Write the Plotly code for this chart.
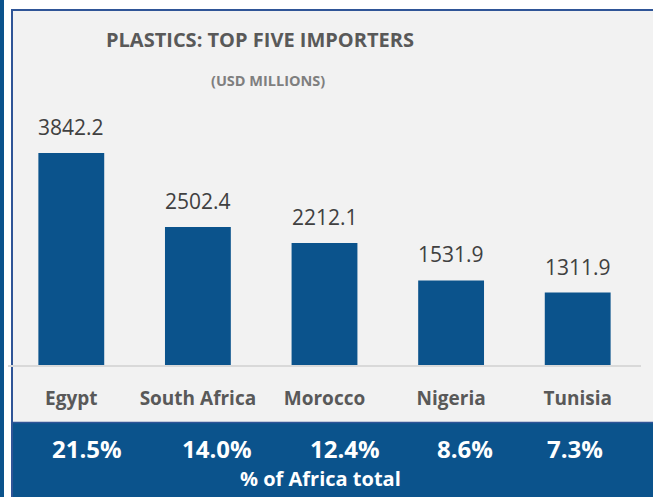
import plotly.graph_objects as go

# Plastics imports, top five African importers (USD millions)
countries = ["Egypt", "South Africa", "Morocco", "Nigeria", "Tunisia"]
imports_usd_m = [3842.2, 2502.4, 2212.1, 1531.9, 1311.9]
share_of_africa = ["21.5%", "14.0%", "12.4%", "8.6%", "7.3%"]

W, H = 653, 497
BLUE = "#0B538C"
BORDER = "#2F5597"
PANEL = "#F2F2F2"


def px(x):
    return x / W


def py(y):
    return (H - y) / H


baseline_px, top_px = 365, 100
y_top = imports_usd_m[0] * (baseline_px - top_px) / (baseline_px - 153)

fig = go.Figure()
fig.add_trace(go.Bar(
    x=countries, y=imports_usd_m,
    marker=dict(color=BLUE, line=dict(width=0)),
    width=0.52, hoverinfo="x+y",
))

shapes = [
    # outer accent stripe
    dict(type="rect", xref="paper", yref="paper", x0=0, x1=px(4), y0=0, y1=1,
         fillcolor=BLUE, line=dict(width=0), layer="below"),
    # panel border
    dict(type="rect", xref="paper", yref="paper", x0=px(11), x1=1, y0=0, y1=py(9),
         fillcolor=BORDER, line=dict(width=0), layer="below"),
    # panel background
    dict(type="rect", xref="paper", yref="paper", x0=px(13), x1=1, y0=0, y1=py(11),
         fillcolor=PANEL, line=dict(width=0), layer="below"),
    # share band at the bottom
    dict(type="rect", xref="paper", yref="paper", x0=px(13), x1=1, y0=0, y1=py(422),
         fillcolor=BLUE, line=dict(width=0), layer="below"),
    dict(type="line", xref="paper", yref="paper", x0=px(13), x1=1, y0=py(422.5), y1=py(422.5),
         line=dict(color=BORDER, width=1.5), layer="below"),
]

annotations = [
    dict(text="<b>PLASTICS: TOP FIVE IMPORTERS</b>", xref="paper", yref="paper",
         x=px(260), y=py(40), showarrow=False, xanchor="center", yanchor="middle",
         font=dict(family="Open Sans", size=20, color="#595959")),
    dict(text="<b>(USD MILLIONS)</b>", xref="paper", yref="paper",
         x=px(268), y=py(81), showarrow=False, xanchor="center", yanchor="middle",
         font=dict(family="Open Sans", size=14.5, color="#7F7F7F")),
    dict(text="<b>% of Africa total</b>", xref="paper", yref="paper",
         x=px(320), y=py(478), showarrow=False, xanchor="center", yanchor="middle",
         font=dict(family="Open Sans", size=20, color="white")),
]

# value labels above the bars
for c, v in zip(countries, imports_usd_m):
    annotations.append(dict(
        text=f"{v:.1f}", x=c, y=v, xref="x", yref="y", showarrow=False,
        xanchor="center", yanchor="bottom", yshift=10,
        font=dict(family="Open Sans", size=21, color="#404040"),
    ))

# share of Africa total, in the band below the axis
share_x_px = [87, 217, 345, 465, 575]
for s, xp in zip(share_of_africa, share_x_px):
    annotations.append(dict(
        text=f"<b>{s}</b>", xref="paper", yref="paper", x=px(xp), y=py(448),
        showarrow=False, xanchor="center", yanchor="middle",
        font=dict(family="Open Sans", size=24, color="white"),
    ))

fig.update_layout(
    width=W, height=H,
    margin=dict(l=0, r=0, t=0, b=0),
    paper_bgcolor="white",
    plot_bgcolor="rgba(0,0,0,0)",
    showlegend=False,
    shapes=shapes,
    annotations=annotations,
    xaxis=dict(
        domain=[px(8), px(641)],
        showline=True, linecolor="#D9D9D9", linewidth=1.5,
        ticks="", ticklabelstandoff=15,
        tickvals=countries,
        ticktext=[f"<b>{c}</b>" for c in countries],
        tickfont=dict(family="Open Sans", size=19, color="#595959"),
        showgrid=False, zeroline=False, fixedrange=True,
    ),
    yaxis=dict(
        domain=[py(baseline_px), py(top_px)],
        range=[0, y_top],
        visible=False, showgrid=False, zeroline=False, fixedrange=True,
    ),
)

fig.write_html("out.html")
